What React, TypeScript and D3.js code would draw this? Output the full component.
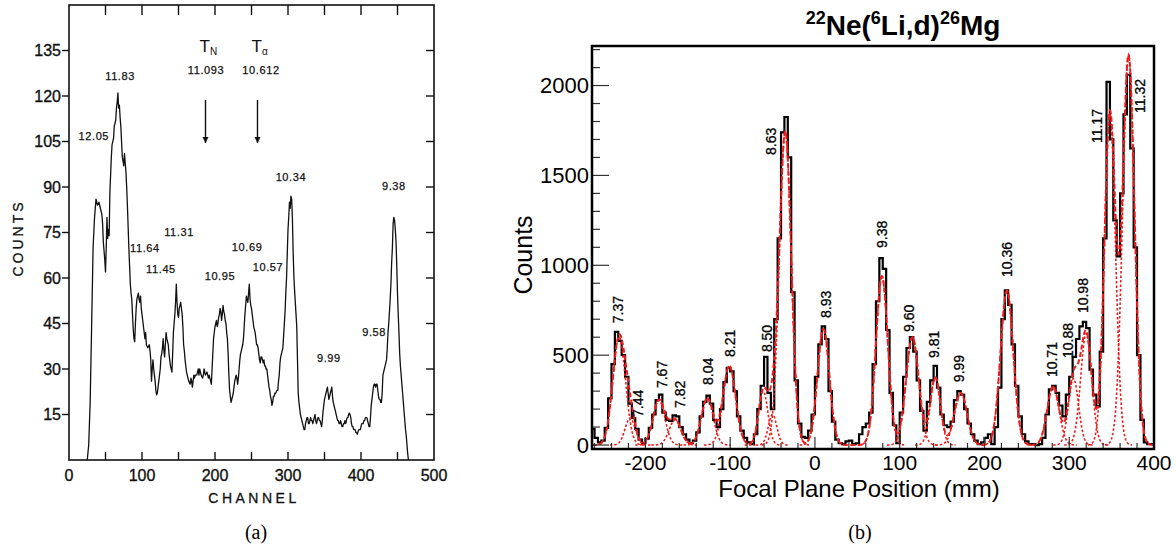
import React from "react";
import * as d3 from "d3";

// ---------------- Panel (a): channel spectrum ----------------
const spectrumA: [number, number][] = [
  [25,0],[27,5],[29,19],[31,44],[33,70],[35,80],[37,86],[39,84],[41,85],[43,83],[45,81],[46,78],[47,72],[48,69],[49,66],[50,62],[51,70],[52,80],[53,73],[54,76],[55,74],[56,88],[58,100],[59,104],[61,106],[62,110],[64,112],[65,116],[66,118],[67,121],[68,116],[69,117],[70,113],[71,110],[72,105],[73,100],[75,97],[76,101],[77,98],[78,95],[79,90],[80,84],[81,77],[82,70],[83,64],[84,58],[85,55],[86,53],[87,48],[88,43],[89,40],[90,39],[91,45],[92,50],[93,53],[95,55],[96,53],[97,52],[98,54],[99,50],[101,46],[102,44],[104,40],[105,42],[106,38],[108,37],[110,38],[111,36],[112,33],[113,26],[114,30],[115,33],[116,30],[117,28],[118,26],[119,23],[120,21.5],[121,22],[122,24],[124,28],[125,30],[126,34],[127,35],[128,37],[129,40],[130,36],[131,34],[132,38],[133,42],[134,40],[136,38],[137,35],[138,33],[139,31],[140,30],[141,29],[142,35],[143,42],[144,45],[145,48],[146,52],[147,58],[148,52],[149,48],[150,47],[151,50],[152,51],[153,52],[154,50],[155,48],[156,44],[157,38],[158,36],[159,33],[160,31],[161,29],[162,28],[163,27],[164,26],[166,25],[167,27],[168,26],[169,24],[170,26],[171,28],[172,27],[173,28],[175,28],[176,29],[177,30],[178,28],[179,30],[180,29],[181,28],[183,27],[184,28],[185,30],[186,29],[187,28],[189,29],[190,28],[191,27],[192,28],[193,27],[194,26],[195,25],[196,30],[197,35],[198,40],[200,44],[201,45],[202,46],[203,44],[204,45],[205,47],[206,48],[207,50],[208,49],[209,46],[210,48],[211,51],[212,49],[213,48],[214,46],[215,45],[216,42],[217,40],[218,35],[219,28],[220,23],[221,21],[222,19],[223,20],[224,21],[225,22],[226,24],[227,26],[228,27],[229,28],[230,27],[231,25],[232,27],[233,30],[234,33],[235,35],[236,36],[237,37],[238,38],[239,40],[240,44],[241,48],[242,51],[243,54],[244,53],[245,52],[246,55],[247,58],[248,53],[249,51],[250,50],[251,48],[252,46],[253,44],[254,43],[255,42],[256,40],[257,38],[258,38],[259,37],[260,35],[261,33],[262,32],[263,34],[264,34],[265,33],[266,32],[267,33],[268,31],[269,31],[270,30],[271,30],[272,28],[273,26],[274,24],[275,23],[276,21],[277,20],[278,18],[279,19],[280,21],[281,21],[282,22],[283,22],[285,23],[286,23],[287,26],[288,28],[289,32],[290,34],[291,35],[292,36],[293,37],[294,41],[295,45],[296,49],[297,55],[298,60],[299,68],[300,76],[301,80],[302,85],[303,83],[304,87],[305,86],[306,80],[307,69],[308,61],[309,56],[310,52],[311,48],[312,44],[313,33],[314,22],[315,19],[316,17],[317,15],[318,14],[319,13],[320,12],[321,11],[322,10],[323,10],[324,12],[325,13],[326,14],[327,14],[328,12],[329,12],[330,13],[331,14],[332,13],[333,13],[334,12],[335,13],[336,14],[337,15],[338,13],[339,12],[340,13],[341,14],[342,14],[343,13],[344,13],[345,12],[346,11],[347,13],[348,16],[349,18],[350,20],[351,21],[352,22],[353,23],[354,24],[355,22],[356,20],[357,21],[358,22],[359,23],[360,24],[361,21],[362,19],[363,18],[364,17],[365,16],[366,15],[367,14],[368,13],[369,13],[370,12],[371,12],[372,13],[373,12],[374,11],[375,11],[376,12],[377,12],[378,13],[379,12],[380,13],[381,14],[382,14],[383,15],[384,15.5],[385,15],[386,14],[387,12],[388,11],[389,11],[390,10],[391,10],[392,10],[393,9],[394,9],[395,8.5],[396,9.5],[397,10],[398,10],[399,10],[400,11],[401,12],[402,12],[403,12],[404,13],[405,13],[406,14],[407,14],[408,14],[409,13],[410,12],[411,11],[412,11],[413,14],[414,18],[415,20],[416,22],[417,24],[418,25],[419,25],[420,24],[421,25],[422,25],[423,23],[424,21],[425,20],[426,20],[427,19],[428,19],[429,22],[430,28],[431,29],[432,30],[433,31],[434,32],[435,33],[436,37],[437,42],[438,45],[439,49],[440,53],[441,58],[442,65],[443,70],[444,78],[445,80],[446,79],[447,76],[448,72],[449,64],[450,55],[451,48],[452,42],[453,35],[454,31],[455,28],[456,25],[457,22],[458,19],[459,16],[460,13],[461,10],[462,8],[463,5],[464,2],[465,0]
];
const xTickLabelsA = [0, 100, 200, 300, 400, 500];
const xTickMarksA = [50, 100, 150, 200, 250, 300, 350, 400, 450];
const yTicksA = [15, 30, 45, 60, 75, 90, 105, 120, 135];
// peak labels: text, channel, counts (centre of label)
const labelTextA = ["12.05","11.83","10.34","9.38","11.31","11.64","10.69","10.57","11.45","10.95","9.99","9.58","11.093","10.612"];
const labelChA = [34, 70, 304, 445, 150.7, 104, 244, 272.6, 126, 206.8, 356, 418, 187.7, 263];
const labelCntA = [106.8, 126.6, 93.3, 90.3, 75.2, 69.9, 70.2, 63.6, 63, 60.7, 33.6, 42.2, 128.6, 128.6];
// thresholds T_N and T_alpha
const thresholdNames = ["N", "α"];
const thresholdCh = [187, 258.2];

// ---------------- Panel (b): focal-plane spectrum ----------------
const binStartB = -264;
const binWidthB = 4;
const countsB = [
  90,40,15,25,95,260,450,630,580,500,
  380,230,150,90,30,10,35,95,170,250,
  280,180,140,135,165,160,100,60,30,10,
  25,70,160,240,275,230,140,100,200,350,
  430,410,300,160,80,40,15,5,60,200,
  330,490,290,200,700,1150,1740,1825,1600,850,
  360,120,45,40,80,170,380,560,660,590,
  300,130,30,10,5,20,25,5,10,60,
  100,120,180,450,800,1040,980,640,290,110,
  10,180,380,540,600,520,360,190,80,240,
  360,440,320,170,110,100,130,250,300,280,
  200,120,60,25,5,15,40,60,5,100,
  320,700,860,780,560,330,160,60,20,5,
  5,0,5,40,170,310,330,290,220,160,
  280,380,490,590,660,685,650,420,280,215,
  520,1150,2020,1700,1250,1050,1400,1840,2060,1650,
  1100,500,140,15,5,5
];
// fitted gaussian components (centroid mm, amplitude, sigma mm)
const peakMu = [-231,-218,-184,-165,-127,-101,-61,-50,-35,10,79,115,142,172,226.5,281,305,320,348,370];
const peakAmp = [600,150,250,140,260,440,300,170,1745,645,940,600,375,290,860,325,370,620,1846,2165];
const peakSigma = [7.5,6,7,7,7,7.5,5.5,5,7,7,7,7.5,6,7.5,7.5,7,6,6.5,6.5,7];
// rotated peak labels (anchor at label bottom)
const labelTextB = ["7.37","7.44","7.67","7.82","8.04","8.21","8.50","8.63","8.93","9.38","9.60","9.81","9.99","10.36","10.71","10.88","10.98","11.17","11.32"];
const labelXB = [-232.5,-209,-180.5,-159,-126,-100,-57,-52,13,79,111,140.5,170,226.5,279.6,298.5,316,333,383.5];
const labelYB = [678,156,317,206,334,490,517,1614,707,1096,629,484,350,935,378,484,734,1680,1847];
const xTicksB = [-200, -100, 0, 100, 200, 300, 400];
const yTicksB = [0, 500, 1000, 1500, 2000];

const SANS = "'Liberation Sans', Arial, Helvetica, sans-serif";
const SERIF = "'Liberation Serif', 'Times New Roman', serif";
const RED = "#ee1c1c";

export default function App() {
  // ----- scales (a)
  const xA = d3.scaleLinear().domain([0, 500]).range([69, 434]);
  const yA = d3.scaleLinear().domain([0, 150]).range([460, 5]);
  const lineA = d3.line<[number, number]>().x(d => xA(d[0])).y(d => yA(d[1]));

  // ----- scales (b)
  const xB = d3.scaleLinear().domain([-263, 400]).range([592, 1154]);
  const yB = d3.scaleLinear().domain([-22, 2220]).range([449, 46]);
  const histPts: [number, number][] = countsB.map((v, i) => [binStartB + i * binWidthB, v]);
  histPts.push([binStartB + countsB.length * binWidthB, countsB[countsB.length - 1]]);
  const stepLine = d3.line<[number, number]>().x(d => xB(d[0])).y(d => yB(d[1])).curve(d3.curveStepAfter);
  const fitLine = d3.line<[number, number]>().x(d => xB(d[0])).y(d => yB(d[1]));
  const gauss = (x: number, i: number) => peakAmp[i] * Math.exp(-0.5 * ((x - peakMu[i]) / peakSigma[i]) ** 2);
  const totalPts: [number, number][] = d3.range(-263, 400.01, 0.5).map(x => [x, d3.sum(peakMu, (_, i) => gauss(x, i))]);
  const compPaths = peakMu.map((mu, i) => {
    const s = peakSigma[i];
    const pts: [number, number][] = d3.range(mu - 4 * s, mu + 4 * s + 0.01, 0.5).map(x => [x, gauss(x, i)]);
    return fitLine(pts) as string;
  });
  const yMinorB = d3.range(0, 2201, 100);
  const xMinorB = d3.range(-260, 401, 20);

  const [a0, a1] = xA.range();
  const [aBot, aTop] = yA.range();
  const [b0, b1] = xB.range();
  const [bBot, bTop] = yB.range();

  return (
    <svg width={1176} height={548} style={{ position: "absolute", left: 0, top: 0, background: "#fff" }}>
      <defs>
        <clipPath id="clipB"><rect x={b0} y={bTop} width={b1 - b0} height={bBot - bTop} /></clipPath>
        <marker id="arr" viewBox="0 0 10 10" refX={10} refY={5} markerWidth={6} markerHeight={7} orient="auto" markerUnits="userSpaceOnUse">
          <path d="M0,0 L10,5 L0,10 z" fill="#111" />
        </marker>
      </defs>

      {/* ================= Panel (a) ================= */}
      <g fontFamily={SANS} fill="#111">
        <rect x={a0} y={aTop} width={a1 - a0} height={aBot - aTop} fill="none" stroke="#111" strokeWidth={1.6} />
        {yTicksA.map(t => (
          <g key={"ya" + t}>
            <line x1={a0 - 7} x2={a0} y1={yA(t)} y2={yA(t)} stroke="#111" strokeWidth={1.4} />
            <line x1={a1 - 8} x2={a1} y1={yA(t)} y2={yA(t)} stroke="#111" strokeWidth={1.4} />
            <text x={a0 - 8} y={yA(t)} dy="0.36em" textAnchor="end" fontSize={16} stroke="#111" strokeWidth={0.35}>{t}</text>
          </g>
        ))}
        {xTickMarksA.map(t => (
          <g key={"xa" + t}>
            <line x1={xA(t)} x2={xA(t)} y1={aTop} y2={aTop + 10} stroke="#111" strokeWidth={1.4} />
            <line x1={xA(t)} x2={xA(t)} y1={aBot} y2={aBot - 8} stroke="#111" strokeWidth={1.4} />
          </g>
        ))}
        {xTickLabelsA.map(t => (
          <text key={"xla" + t} x={xA(t)} y={481} textAnchor="middle" fontSize={16} stroke="#111" strokeWidth={0.35}>{t}</text>
        ))}
        <text x={254} y={503} textAnchor="middle" fontSize={14} letterSpacing={3.5} stroke="#111" strokeWidth={0.3}>CHANNEL</text>
        <text transform={`translate(23,238) rotate(-90)`} textAnchor="middle" fontSize={14} letterSpacing={3} stroke="#111" strokeWidth={0.3}>COUNTS</text>

        <path d={lineA(spectrumA) as string} fill="none" stroke="#111" strokeWidth={1.3} strokeLinejoin="round" />

        {labelTextA.map((t, i) => (
          <text key={"la" + i} x={xA(labelChA[i])} y={yA(labelCntA[i])} dy="0.35em" textAnchor="middle" fontSize={11} letterSpacing={0.6} stroke="#111" strokeWidth={0.25}>{t}</text>
        ))}
        {thresholdNames.map((n, i) => (
          <g key={"thr" + i}>
            <text x={xA(thresholdCh[i]) - 6} y={yA(134.5)} fontSize={17}>T<tspan fontSize={10} dy={3}>{n}</tspan></text>
            <line x1={xA(thresholdCh[i])} x2={xA(thresholdCh[i])} y1={yA(118.7)} y2={yA(104.5)} stroke="#111" strokeWidth={1.4} markerEnd="url(#arr)" />
          </g>
        ))}
      </g>
      <text x={256} y={539} textAnchor="middle" fontFamily={SERIF} fontSize={20} fill="#000">(a)</text>

      {/* ================= Panel (b) ================= */}
      <g fontFamily={SANS} fill="#000">
        <text x={903} y={35} textAnchor="middle" fontWeight="bold" fontSize={28}>
          <tspan fontSize={18} dy={-11}>22</tspan><tspan dy={11}>Ne(</tspan>
          <tspan fontSize={18} dy={-11}>6</tspan><tspan dy={11}>Li,d)</tspan>
          <tspan fontSize={18} dy={-11}>26</tspan><tspan dy={11}>Mg</tspan>
        </text>

        <g clipPath="url(#clipB)">
          <path d={stepLine(histPts) as string} fill="none" stroke="#000" strokeWidth={2.2} />
          {compPaths.map((d, i) => (
            <path key={"cp" + i} d={d} fill="none" stroke={RED} strokeWidth={1.6} strokeDasharray="2.5,2" />
          ))}
          <path d={fitLine(totalPts) as string} fill="none" stroke={RED} strokeWidth={2} strokeDasharray="5,2.5" />
        </g>

        {yMinorB.map(t => (
          <line key={"yb" + t} x1={b0} x2={b0 + (t % 500 === 0 ? 17 : 8)} y1={yB(t)} y2={yB(t)} stroke="#333" strokeWidth={1.2} />
        ))}
        {xMinorB.map(t => (
          <line key={"xb" + t} x1={xB(t)} x2={xB(t)} y1={bBot} y2={bBot - (t % 100 === 0 ? 12 : 6)} stroke="#333" strokeWidth={1.2} />
        ))}
        <rect x={b0} y={bTop} width={b1 - b0} height={bBot - bTop} fill="none" stroke="#000" strokeWidth={2.5} />

        {yTicksB.map(t => (
          <text key={"ylb" + t} x={b0 - 3} y={yB(t)} dy="0.36em" textAnchor="end" fontSize={22}>{t}</text>
        ))}
        {xTicksB.map(t => (
          <text key={"xlb" + t} x={xB(t)} y={470} textAnchor="middle" fontSize={21}>{t}</text>
        ))}
        <text x={859} y={497} textAnchor="middle" fontSize={24}>Focal Plane Position (mm)</text>
        <text transform={`translate(532,255) rotate(-90)`} textAnchor="middle" fontSize={25}>Counts</text>

        {labelTextB.map((t, i) => (
          <text key={"lb" + i} transform={`translate(${xB(labelXB[i])},${yB(labelYB[i])}) rotate(-90)`} dy="0.35em" textAnchor="start" fontSize={14} stroke="#000" strokeWidth={0.3}>{t}</text>
        ))}
      </g>
      <text x={860} y={539} textAnchor="middle" fontFamily={SERIF} fontSize={20} fill="#000">(b)</text>
    </svg>
  );
}
